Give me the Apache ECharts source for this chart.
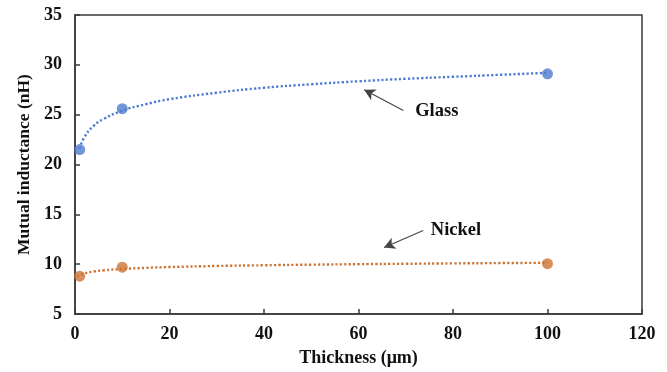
<!DOCTYPE html>
<html>
<head>
<meta charset="utf-8">
<script src="https://cdn.jsdelivr.net/npm/echarts@6/dist/echarts.min.js"></script>
<style>html,body{margin:0;padding:0;background:#fff;}#c{width:667px;height:372px;}</style>
</head>
<body>
<div id="c"></div>
<script>
// Measured points
const thickness = [1, 10, 100];
const glass = [21.5, 25.6, 29.1];
const nickel = [8.8, 9.7, 10.05];

// Trendlines (logarithmic)
const trendXGlass = [1, 2, 4, 6, 10, 15, 20, 30, 40, 50, 60, 70, 80, 90, 100];
const trendGlass = [21.6, 22.75, 23.9, 24.55, 25.4, 26.05, 26.55, 27.2, 27.7, 28.05, 28.35, 28.6, 28.8, 29.0, 29.2];
const trendXNickel = [0.5, 1, 2, 4, 6, 10, 15, 20, 30, 40, 50, 60, 70, 80, 90, 100];
const trendNickel = [8.7, 8.9, 9.08, 9.27, 9.38, 9.52, 9.63, 9.71, 9.82, 9.89, 9.95, 10.0, 10.04, 10.08, 10.11, 10.14];

// Axis
const xTicks = [0, 20, 40, 60, 80, 100, 120];
const yTicks = [5, 10, 15, 20, 25, 30, 35];

// Annotations (data coords)
const glassArrow = [[69.5, 25.42], [61.2, 27.5]];
const glassLabel = [72.0, 25.3];
const nickelArrow = [[73.7, 13.37], [65.4, 11.67]];
const nickelLabel = [75.3, 13.45];

const BLUE = '#4f7bd0';
const ORANGE = '#cc7434';
const FONT = "'Liberation Serif', 'Times New Roman', serif";
const AX = '#3a3a3a';

const zip = (a, b) => a.map((v, i) => [v, b[i]]);

const chart = echarts.init(document.getElementById('c'));
chart.setOption({
  animation: false,
  backgroundColor: '#fff',
  grid: { left: 75, right: 25, top: 15, bottom: 58, show: true, borderColor: AX, borderWidth: 1.5 },
  xAxis: {
    type: 'value', min: xTicks[0], max: xTicks[xTicks.length - 1], interval: 20,
    name: 'Thickness (μm)', nameLocation: 'middle', nameGap: 35,
    nameTextStyle: { fontFamily: FONT, fontWeight: 'bold', fontSize: 18, color: '#111' },
    axisLine: { lineStyle: { color: AX, width: 1.5 } },
    axisTick: { inside: true, length: 5, lineStyle: { color: AX, width: 1.5 } },
    axisLabel: { fontFamily: FONT, fontWeight: 'bold', fontSize: 18, color: '#111', margin: 11 },
    splitLine: { show: false }
  },
  yAxis: {
    type: 'value', min: yTicks[0], max: yTicks[yTicks.length - 1], interval: 5,
    name: 'Mutual inductance (nH)', nameLocation: 'middle', nameGap: 39,
    nameTextStyle: { fontFamily: FONT, fontWeight: 'bold', fontSize: 17.5, color: '#111' },
    axisLine: { show: true, lineStyle: { color: AX, width: 1.5 } },
    axisTick: { show: true, inside: true, length: 5, lineStyle: { color: AX, width: 1.5 } },
    axisLabel: { fontFamily: FONT, fontWeight: 'bold', fontSize: 18, color: '#111', margin: 13 },
    splitLine: { show: false }
  },
  series: [
    {
      type: 'line', data: zip(trendXGlass, trendGlass), smooth: true, showSymbol: false, silent: true,
      lineStyle: { color: BLUE, width: 2.4, type: [2.2, 2.2] },
      markLine: {
        silent: true, symbol: ['none', 'arrow'], symbolSize: [9, 11],
        lineStyle: { color: '#444', width: 1.1, type: 'solid' }, label: { show: false },
        data: [[{ coord: glassArrow[0] }, { coord: glassArrow[1] }]]
      },
      markPoint: {
        silent: true, symbol: 'circle', symbolSize: 0,
        label: { show: true, position: 'right', distance: 0, formatter: 'Glass', fontFamily: FONT, fontWeight: 'bold', fontSize: 18.5, color: '#111' },
        data: [{ coord: glassLabel }]
      }
    },
    {
      type: 'line', data: zip(trendXNickel, trendNickel), smooth: true, showSymbol: false, silent: true,
      lineStyle: { color: ORANGE, width: 2.4, type: [2.2, 2.2] },
      markLine: {
        silent: true, symbol: ['none', 'arrow'], symbolSize: [9, 11],
        lineStyle: { color: '#444', width: 1.1, type: 'solid' }, label: { show: false },
        data: [[{ coord: nickelArrow[0] }, { coord: nickelArrow[1] }]]
      },
      markPoint: {
        silent: true, symbol: 'circle', symbolSize: 0,
        label: { show: true, position: 'right', distance: 0, formatter: 'Nickel', fontFamily: FONT, fontWeight: 'bold', fontSize: 18.5, color: '#111' },
        data: [{ coord: nickelLabel }]
      }
    },
    {
      type: 'scatter', data: zip(thickness, glass), symbolSize: 11,
      itemStyle: { color: BLUE }
    },
    {
      type: 'scatter', data: zip(thickness, nickel), symbolSize: 11,
      itemStyle: { color: ORANGE }
    }
  ]
});
</script>
</body>
</html>
